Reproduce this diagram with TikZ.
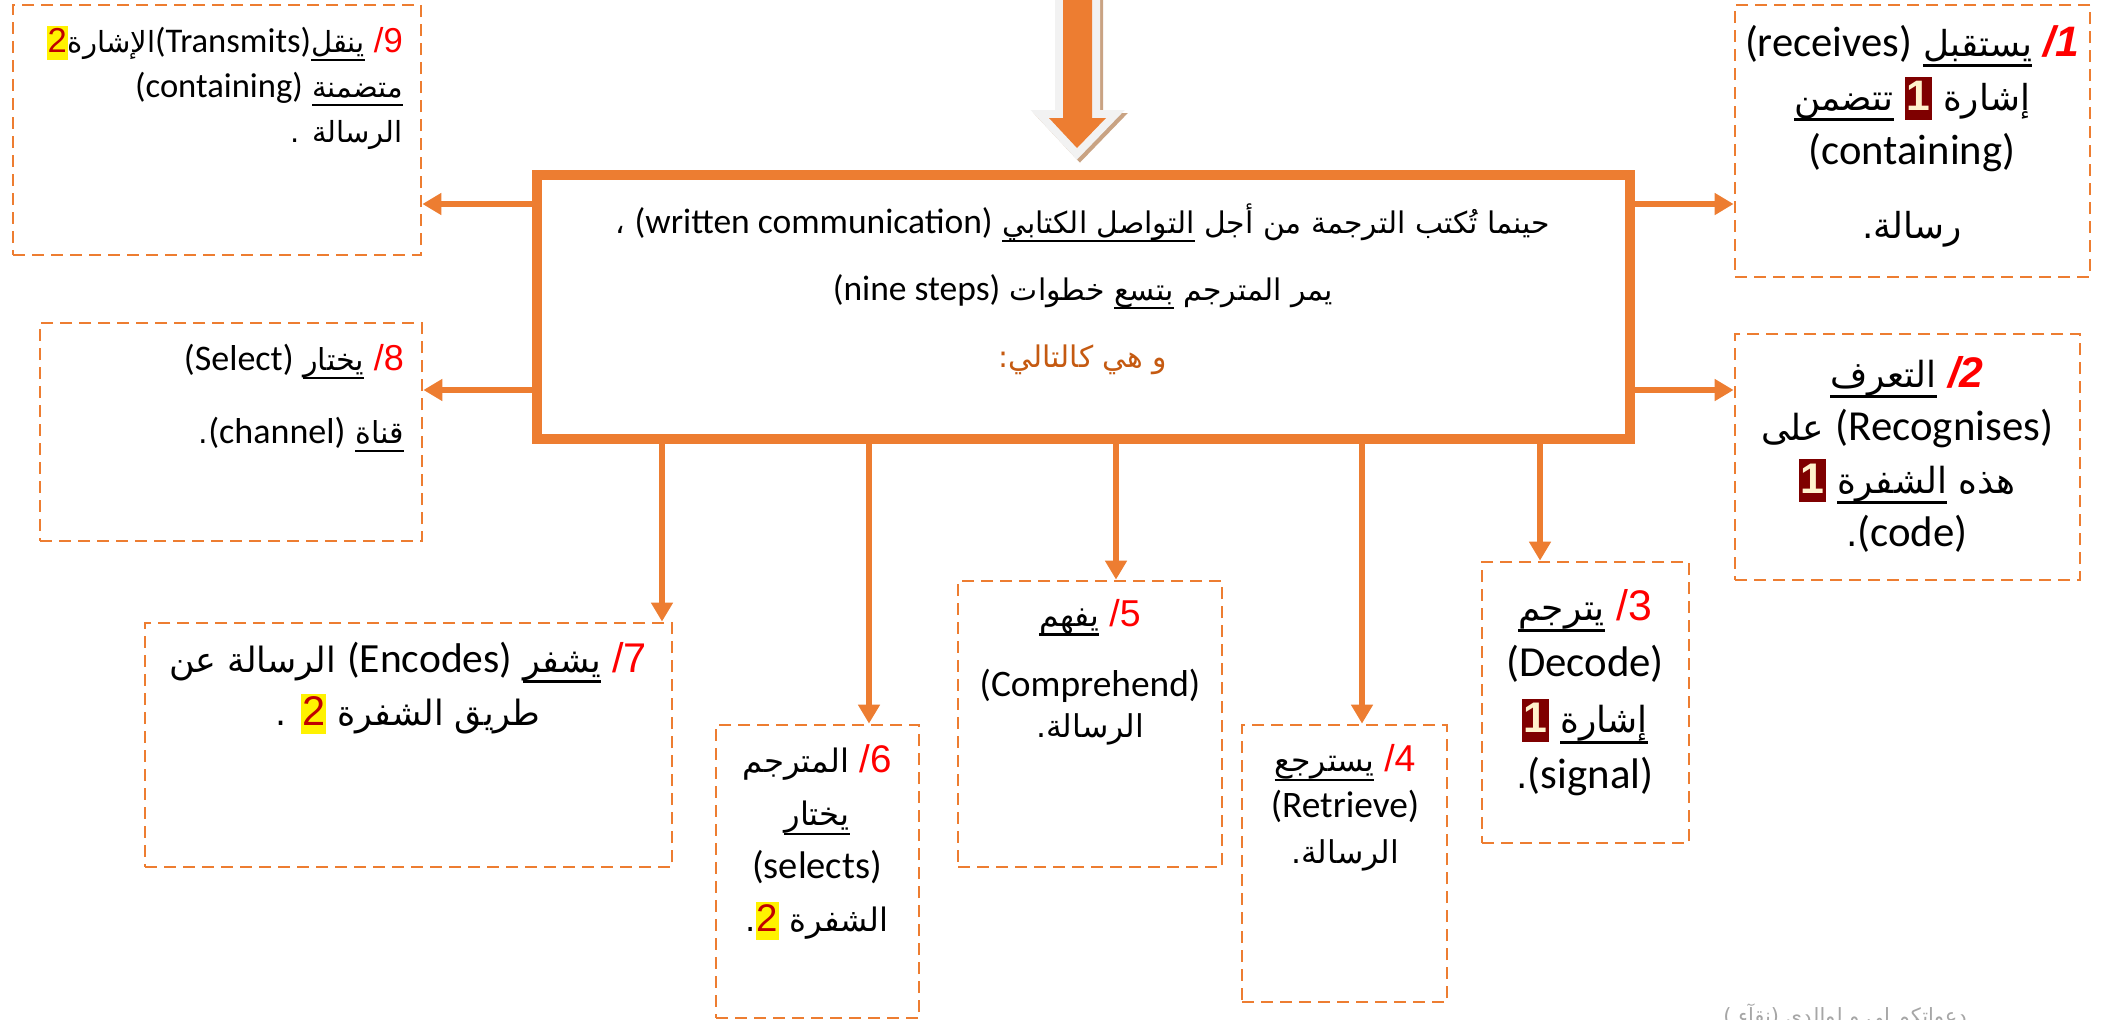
\documentclass[tikz,border=0pt]{standalone}
\usepackage{fontspec}
\setmainfont{Carlito}
\newfontfamily\arabicfont[Script=Arabic,Scale=0.84]{DejaVu Sans}
\newfontfamily\numfont{Liberation Sans}
\TeXXeTstate=1
\usetikzlibrary{arrows.meta,positioning}

\definecolor{accent}{HTML}{ED7D31}
\definecolor{numred}{HTML}{FF0000}
\definecolor{darkred}{HTML}{C00000}
\definecolor{maroon}{HTML}{7F0000}
\definecolor{cream}{HTML}{FFF2CC}
\definecolor{note}{HTML}{C55A11}
\definecolor{shadowtan}{HTML}{C9A383}
\definecolor{rim}{HTML}{F2F2F2}
\definecolor{sign}{HTML}{A6A6A6}

% arabic words of one line, right to left
\newcommand\rl[1]{\beginR#1\endR}
% latin words
\newcommand\en[1]{\hbox{\rmfamily#1}}
% underlined arabic words
\newcommand\ul[1]{\hbox{\setbox0\hbox{\beginR#1\endR}\rlap{\rule[-.3em]{\wd0}{.07em}}\box0}}
% red step number
\newcommand\stepno[1]{\hbox{\textcolor{numred}{\numfont#1}}}
% the two marked numbers
\newcommand\markone{\hbox{\setlength\fboxsep{1.5pt}\colorbox{maroon}{\rule[-.22em]{0pt}{1.12em}\textcolor{cream}{\numfont\bfseries 1}}}}
\newcommand\marktwo{\hbox{\setlength\fboxsep{1pt}\colorbox{yellow}{\rule[-.22em]{0pt}{1.1em}\textcolor{darkred}{\numfont 2}}}}
\newcommand\boxfont[2]{\arabicfont\fontsize{#1}{#2}\selectfont}

\begin{document}
\begin{tikzpicture}[x=1pt, y=-1pt,
    stepbox/.style={draw=accent, line width=2.8pt, dash pattern=on 12pt off 7pt, inner sep=0pt},
    txt/.style={inner sep=0pt, align=center},
    arr/.style={draw=accent, line width=5.5pt, -{Triangle[width=21pt,length=19pt]}}]
    \useasboundingbox (0,0) rectangle (2105,1020);
    \fill[white] (0,0) rectangle (2105,1020);
    \clip (0,0) rectangle (2105,1020);

    % big arrow on top
    \draw[shadowtan, fill=shadowtan, line width=16pt, shift={(3,3)}] (1063,-20) -- (1092,-20) -- (1092,118) -- (1106,118) -- (1077,148) -- (1049,118) -- (1063,118) -- cycle;
    \draw[rim, line width=16pt] (1063,-20) -- (1092,-20) -- (1092,118) -- (1106,118) -- (1077,148) -- (1049,118) -- (1063,118) -- cycle;
    \fill[accent] (1063,-20) -- (1092,-20) -- (1092,118) -- (1106,118) -- (1077,148) -- (1049,118) -- (1063,118) -- cycle;

    % main box
    \node[draw=accent, line width=9pt, minimum width=1094pt, minimum height=265pt, inner sep=0pt] (main) at (1083.5,307) {};
    \draw[accent, line width=2.5pt] ([shift={(8.5pt,-8.5pt)}]main.north west) rectangle ([shift={(-8.5pt,8.5pt)}]main.south east);
    \node[txt, font=\boxfont{35.5}{67}] (mtext) at (1083,289) {%
        ، \en{(written communication)} \ul{التواصل الكتابي} \rl{حينما تُكتب الترجمة من أجل}\\
        \en{(nine steps)} خطوات \ul{بتسع} \rl{يمر المترجم}\\
        \textcolor{note}{:\rl{و هي كالتالي}}};

    % the nine steps
    \node[stepbox, minimum width=355pt, minimum height=272pt] (b1) at (1912.5,141) {};
    \node[stepbox, minimum width=345pt, minimum height=246pt] (b2) at (1907.5,457) {};
    \node[stepbox, minimum width=207pt, minimum height=281pt] (b3) at (1585.5,702.5) {};
    \node[stepbox, minimum width=205pt, minimum height=277pt] (b4) at (1344.5,863.5) {};
    \node[stepbox, minimum width=264pt, minimum height=286pt] (b5) at (1090,724) {};
    \node[stepbox, minimum width=203pt, minimum height=293pt] (b6) at (817.5,871.5) {};
    \node[stepbox, minimum width=527pt, minimum height=244pt] (b7) at (408.5,745) {};
    \node[stepbox, minimum width=382pt, minimum height=218pt] (b8) at (231,432) {};
    \node[stepbox, minimum width=408pt, minimum height=250pt] (b9) at (217,130) {};

    \node[txt, font=\boxfont{42.6}{54}] (t1) at (1912,136) {%
        \en{(receives)} \ul{يستقبل} \stepno{\bfseries\itshape /1}\\
        \ul{تتضمن} \markone\ إشارة\\
        \en{(containing)}\\[20pt]
        .\kern0pt{}رسالة};
    \node[txt, font=\boxfont{42.8}{53}] (t2) at (1907,454) {%
        \ul{التعرف} \stepno{\bfseries\itshape /2}\\
        على \en{(Recognises)}\\
        \markone\ \ul{الشفرة} هذه\\
        .\en{(code)}};
    \node[txt, font=\boxfont{42.8}{56}] (t3) at (1585,693) {%
        \ul{يترجم} \stepno{/3}\\
        \en{(Decode)}\\
        \markone\ \ul{إشارة}\\
        .\en{(signal)}};
    \node[txt, font=\boxfont{37.4}{46}] (t4) at (1345,808) {%
        \ul{يسترجع} \stepno{/4}\\
        \en{(Retrieve)}\\
        .\kern0pt{}الرسالة};
    \node[txt, font=\boxfont{37.4}{41}] (t5) at (1090,672) {%
        \ul{يفهم} \stepno{/5}\\[29pt]
        \en{(Comprehend)}\\
        .\kern0pt{}الرسالة};
    \node[txt, font=\boxfont{38.5}{53}] (t6) at (817,842) {%
        المترجم \stepno{/6}\\
        \ul{يختار}\\
        \en{(selects)}\\
        .\marktwo\ الشفرة};
    \node[txt, font=\boxfont{41.5}{53}] (t7) at (408,688) {%
        \rl{الرسالة عن} \en{(Encodes)} \ul{يشفر} \stepno{/7}\\
        . \marktwo\ \rl{طريق الشفرة}};
    \node[txt, align=right, anchor=east, font=\boxfont{36}{73}] (t8) at (404,398) {%
        \en{(Select)} \ul{يختار} \stepno{/8}\\
        .\en{(channel)} \ul{قناة}};
    \node[txt, align=right, anchor=east, font=\boxfont{34.6}{45}] (t9) at (403,88) {%
        \marktwo الإشارة\en{(Transmits)}\ul{ينقل} \stepno{/9}\\
        \en{(containing)} \ul{متضمنة}\\
        . الرسالة};

    % arrows out of the main box
    \path ([yshift=103pt]main.west) coordinate (mwu) ([yshift=-83pt]main.west) coordinate (mwd)
          ([yshift=103pt]main.east) coordinate (meu) ([yshift=-83pt]main.east) coordinate (med);
    \draw[arr] (mwu) -- (b9.east |- mwu);
    \draw[arr] (mwd) -- (b8.east |- mwd);
    \draw[arr] (meu) -- (b1.west |- meu);
    \draw[arr] (med) -- (b2.west |- med);
    \foreach \b/\x in {b7/662,b6/869,b5/1116,b4/1362,b3/1540}
        \draw[arr] (main.south -| \x,0) -- (\b.north -| \x,0);

    \node[text=sign, font=\boxfont{25}{30}] (sig) at (1845,1016) {\rl{دعواتكم لي و لوالدي (نقآء~)}};
\end{tikzpicture}
\end{document}
